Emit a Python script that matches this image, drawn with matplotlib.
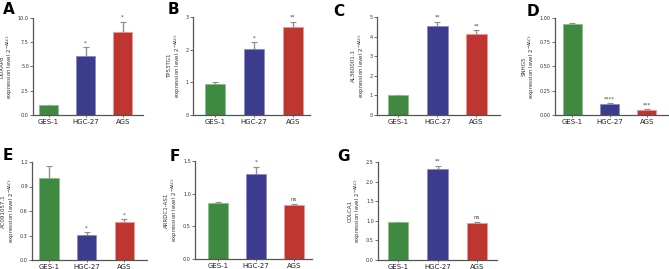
import numpy as np
import matplotlib
matplotlib.use("Agg")
import matplotlib.pyplot as plt

W, H = 669, 269

groups = ["GES-1", "HGC-27", "AGS"]
colors = ["#3f8a40", "#3c3c8e", "#bf3530"]
edges = ["#8cc08c", "#8c8cc4", "#e89a96"]

# data per panel: means, upper error, significance marks
genes = ["DUXAP8", "TP53TG1", "AL360001.1", "SNHG5", "AC091057.1", "ARRDC1-AS1", "COLCA1"]
means_A = [1.0, 6.1, 8.6]
err_A = [0.05, 0.9, 1.0]
means_B = [0.95, 2.02, 2.7]
err_B = [0.07, 0.2, 0.16]
means_C = [1.0, 4.55, 4.15]
err_C = [0.02, 0.2, 0.18]
means_D = [0.94, 0.11, 0.05]
err_D = [0.012, 0.01, 0.008]
means_E = [1.0, 0.31, 0.47]
err_E = [0.15, 0.03, 0.03]
means_F = [0.86, 1.3, 0.82]
err_F = [0.02, 0.11, 0.02]
means_G = [0.96, 2.32, 0.95]
err_G = [0.01, 0.08, 0.03]
stars = [["", "*", "*"], ["", "*", "**"], ["", "**", "**"], ["", "****", "***"],
         ["", "*", "*"], ["", "*", "ns"], ["", "**", "ns"]]
yticks = [[0, 2.5, 5, 7.5, 10], [0, 1, 2, 3], [0, 1, 2, 3, 4, 5],
          [0, 0.25, 0.5, 0.75, 1.0], [0, 0.3, 0.6, 0.9, 1.2],
          [0, 0.5, 1.0, 1.5], [0, 0.5, 1.0, 1.5, 2.0, 2.5]]
tickfmt = ["{:.1f}", "{:.0f}", "{:.0f}", "{:.2f}", "{:.1f}", "{:.1f}", "{:.1f}"]
letters = list("ABCDEFG")

means = [means_A, means_B, means_C, means_D, means_E, means_F, means_G]
errs = [err_A, err_B, err_C, err_D, err_E, err_F, err_G]

# axes boxes in pixels: left, top, right, bottom ; and x limits
boxes = [(33, 18, 143, 115), (193, 17, 310, 115), (377, 17, 500, 115),
         (555, 18, 669, 115), (32, 162, 147, 260), (195, 161, 312, 259),
         (378, 162, 497, 260)]
xlims = [(-0.42, 2.55), (-0.56, 2.44), (-0.54, 2.6), (-0.47, 2.6),
         (-0.45, 2.6), (-0.6, 2.47), (-0.5, 2.5)]
letter_pos = [(3, 2), (168, 2), (333, 4), (527, 4), (3, 148), (170, 149), (337, 149)]

fig = plt.figure(figsize=(W / 100, H / 100), dpi=100)
fig.patch.set_facecolor("white")

for i in range(7):
    l, t, r, b = boxes[i]
    ax = fig.add_axes([l / W, 1 - b / H, (r - l) / W, (b - t) / H])
    x = np.arange(3)
    m = np.array(means[i])
    e = np.array(errs[i])
    ax.bar(x, m, width=0.52, color=colors, edgecolor=edges, linewidth=0.6, zorder=2)
    ax.errorbar(x, m, yerr=[np.zeros(3), e], fmt="none", ecolor="#8f8f8f",
                elinewidth=1.0, capsize=2.2, capthick=0.8, zorder=1)
    top = yticks[i][-1]
    for j in range(3):
        if stars[i][j]:
            ax.text(x[j], m[j] + e[j] + top * 0.02, stars[i][j], ha="center",
                    va="bottom", fontsize=4, color="#444444")
    ax.set_ylim(0, top)
    ax.set_xlim(*xlims[i])
    ax.set_yticks(yticks[i])
    ax.set_yticklabels([tickfmt[i].format(v) for v in yticks[i]], fontsize=3.5, color="#333333")
    ax.set_xticks(x)
    ax.set_xticklabels(groups, fontsize=5, color="#222222")
    for s in ["top", "right"]:
        ax.spines[s].set_visible(False)
    for s in ["left", "bottom"]:
        ax.spines[s].set_color("#555555")
        ax.spines[s].set_linewidth(0.9)
    ax.tick_params(axis="y", length=2, width=0.6, color="#555555", pad=1)
    ax.tick_params(axis="x", length=1.5, width=0.6, color="#555555", pad=1.5)
    ax.set_ylabel(genes[i] + "\nexpression level 2$^{-\\Delta\\Delta Ct}$",
                  fontsize=4, color="#333333", labelpad=2, linespacing=1.1)
    lx, ly = letter_pos[i]
    fig.text(lx / W, 1 - ly / H, letters[i], fontsize=11, fontweight="bold",
             ha="left", va="top")

fig.savefig("out.png", dpi=100, facecolor="white")
